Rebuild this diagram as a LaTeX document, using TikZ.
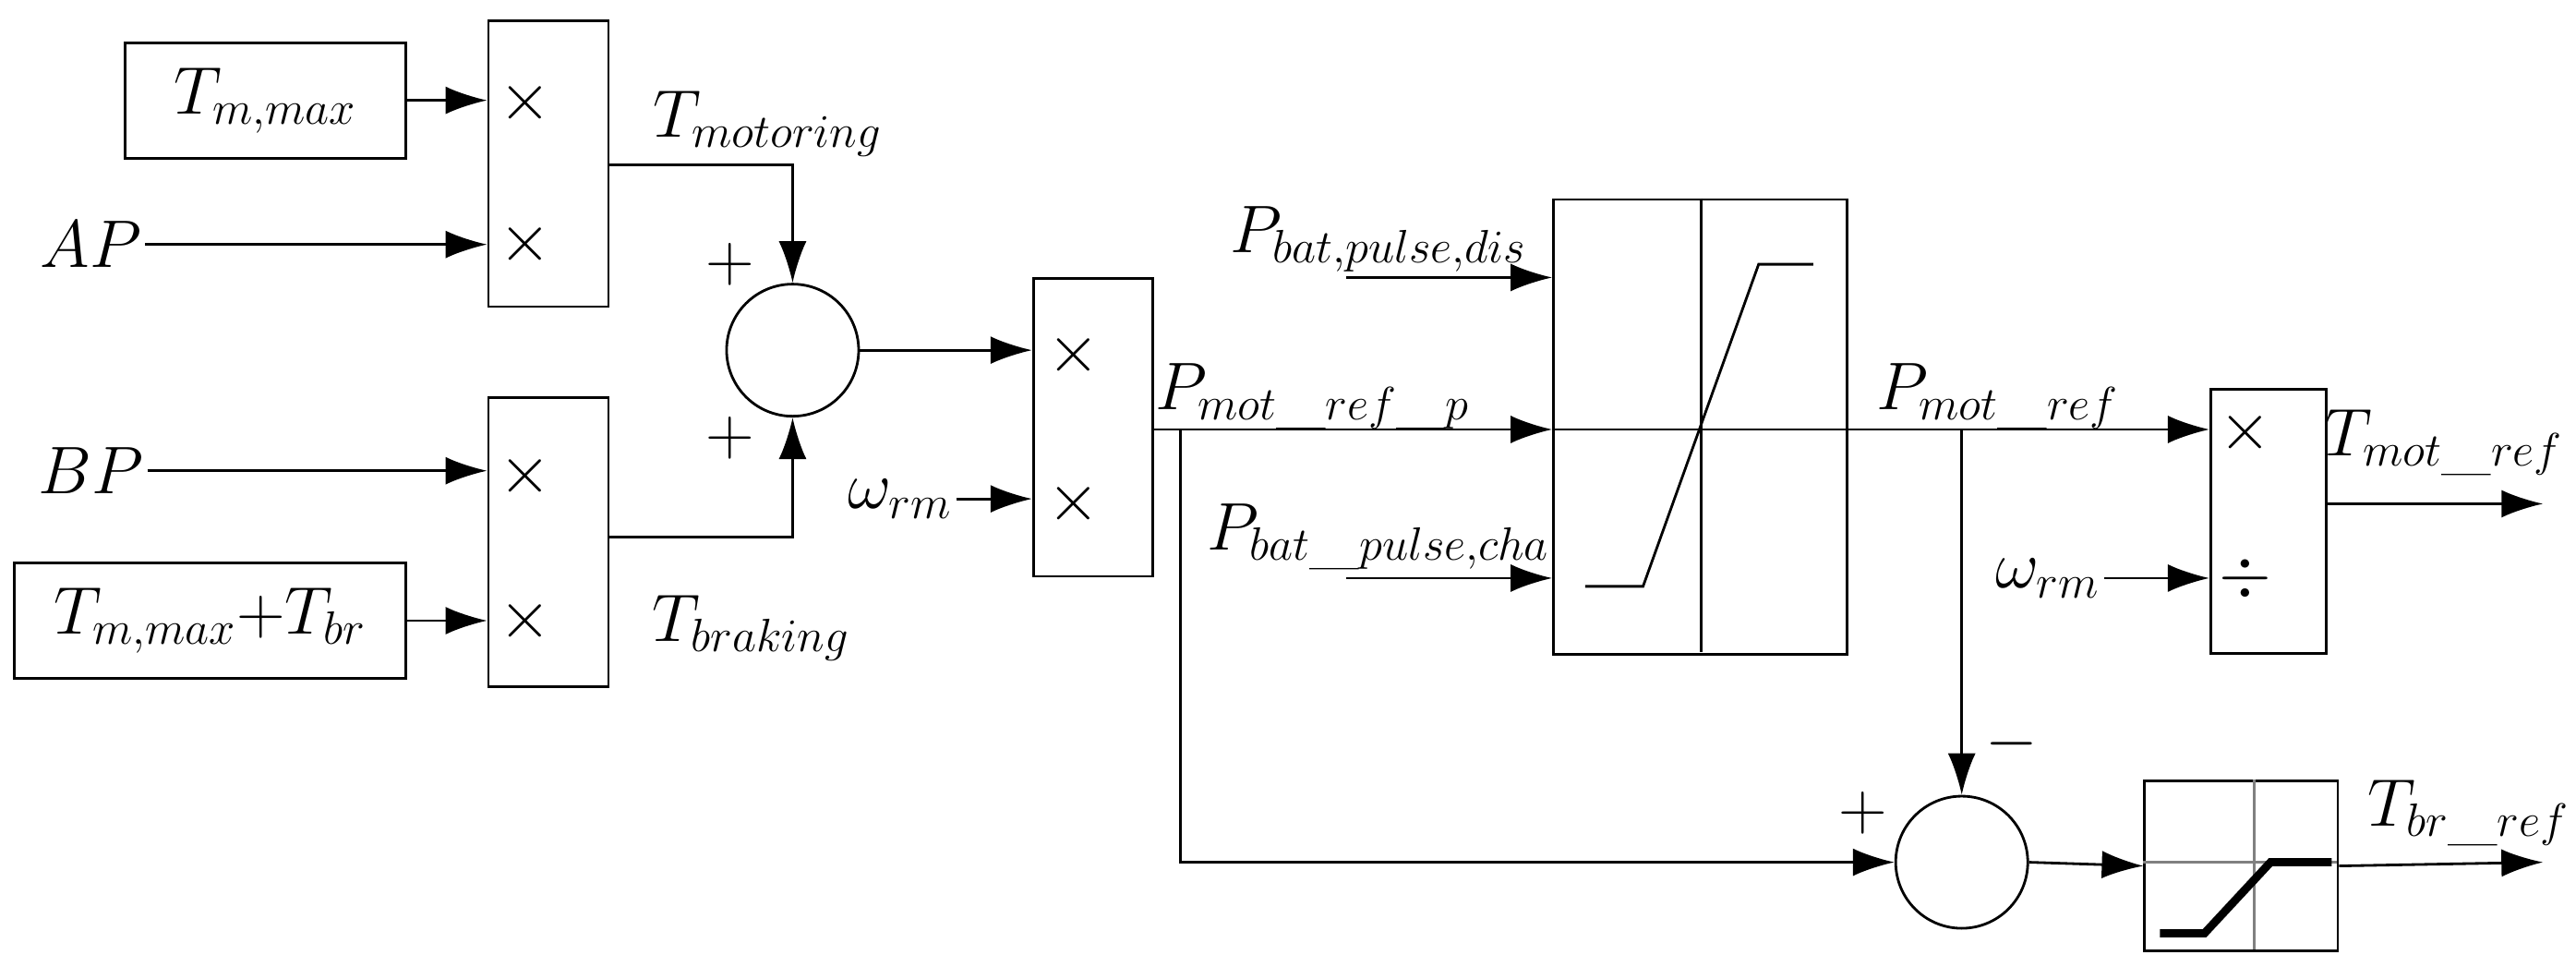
\documentclass[tikz,border=0pt]{standalone}
\usepackage{tikz}
\usetikzlibrary{positioning, arrows.meta, calc}

\begin{document}
\begin{tikzpicture}[
  x=0.1788mm, y=-0.1788mm,
  every node/.style={font=\fontsize{22}{26}\selectfont},
  blockbox/.style={draw, thick, inner sep=0pt, anchor=north west},
  sumnode/.style={circle, draw, thick, minimum size=14.3mm, inner sep=0pt},
  lbl/.style={inner sep=1pt},
  sig/.style={thick, -{Latex[length=4.5mm, width=3mm]}},
  wire/.style={thick}
]
\useasboundingbox (0,0) rectangle (1560,585);

% blocks
\node[blockbox, minimum width=30.4mm, minimum height=12.5mm] (tmax) at (75,25) {$T_{m,max}$};
\node[blockbox, minimum width=42.4mm, minimum height=12.5mm] (tmaxbr) at (8,340) {$T_{m,max}{+}T_{br}$};
\node[blockbox, minimum width=13mm, minimum height=30.9mm] (mul1) at (295,12) {};
\node[blockbox, minimum width=13mm, minimum height=31.3mm] (mul2) at (295,240) {};
\node[blockbox, minimum width=12.9mm, minimum height=32.2mm] (mul3) at (625,168) {};
\node[blockbox, minimum width=31.8mm, minimum height=49.2mm] (sat) at (940,120) {};
\node[blockbox, minimum width=12.5mm, minimum height=28.6mm] (mul4) at (1338,235) {};
\node[blockbox, minimum width=20.9mm, minimum height=18.4mm] (lim) at (1298,472) {};
\node[sumnode] (sum1) at (480,212) {};
\node[sumnode] (sum2) at (1188,522) {};

% operator signs
\foreach \px/\py in {318/62, 318/148, 318/288, 318/376, 650/215, 650/305, 1360/262}
  \node[lbl] at (\px,\py) {$\times$};
\node[lbl] at (1360,350) {$\div$};
\node[lbl] at (442,160) {$+$};
\node[lbl] at (442,265) {$+$};
\node[lbl] at (1128,492) {$+$};
\node[lbl] at (1218,450) {$-$};

% saturation curves
\draw[thick] (1030,120) -- (1030,395);
\draw[thick] (940,260) -- (1118,260);
\draw[thick] (960,355) -- (995,355) -- (1065,160) -- (1098,160);
\draw[gray, thick] (1365,472) -- (1365,575);
\draw[gray, thick] (1298,522) -- (1415,522);
\draw[line width=2.5pt] (1308,565) -- (1335,565) -- (1375,522) -- (1412,522);

% signal labels
\node[lbl] (ap) at (55,148) {$AP$};
\node[lbl] (bp) at (55,285) {$BP$};
\node[lbl] at (465,75) {$T_{motoring}$};
\node[lbl] at (455,380) {$T_{braking}$};
\node[lbl] (w1) at (545,302) {$\omega_{rm}$};
\node[lbl] at (795,240) {$P_{mot\_ref\_p}$};
\node[lbl] at (835,145) {$P_{bat,pulse,dis}$};
\node[lbl] at (835,325) {$P_{bat\_pulse,cha}$};
\node[lbl] at (1210,240) {$P_{mot\_ref}$};
\node[lbl] (w2) at (1240,350) {$\omega_{rm}$};
\node[lbl] at (1480,268) {$T_{mot\_ref}$};
\node[lbl] at (1495,492) {$T_{br\_ref}$};

\coordinate (pdis) at (815,168);
\coordinate (pcha) at (815,350);
\coordinate (tmout) at (1540,305);
\coordinate (tbout) at (1540,522);
\coordinate (bp1) at (715,260);
\coordinate (bp2) at (1188,260);

% connectors
\draw[sig] (tmax.east) -- (tmax.east -| mul1.west);
\draw[sig] (ap.east) -- (ap.east -| mul1.west);
\draw[sig] (bp.east) -- (bp.east -| mul2.west);
\draw[sig] (tmaxbr.east) -- (tmaxbr.east -| mul2.west);
\draw[sig] (368,100) -| (sum1.north);
\draw[sig] (368,325) -| (sum1.south);
\draw[sig] (sum1.east) -- (sum1.east -| mul3.west);
\draw[sig] (w1.east) -- (w1.east -| mul3.west);
\draw[sig] (697,260) -- (940,260);
\draw[sig] (pdis) -- (pdis -| sat.west);
\draw[sig] (pcha) -- (pcha -| sat.west);
\draw[sig] (bp1) |- (sum2.west);
\draw[sig] (1118,260) -- (1338,260);
\draw[sig] (bp2) -- (sum2.north);
\draw[sig] (w2.east) -- (w2.east -| mul4.west);
\draw[sig] (mul4.east |- tmout) -- (tmout);
\draw[sig] (sum2.east) -- (lim.west);
\draw[sig] (lim.east) -- (tbout);
\end{tikzpicture}
\end{document}
